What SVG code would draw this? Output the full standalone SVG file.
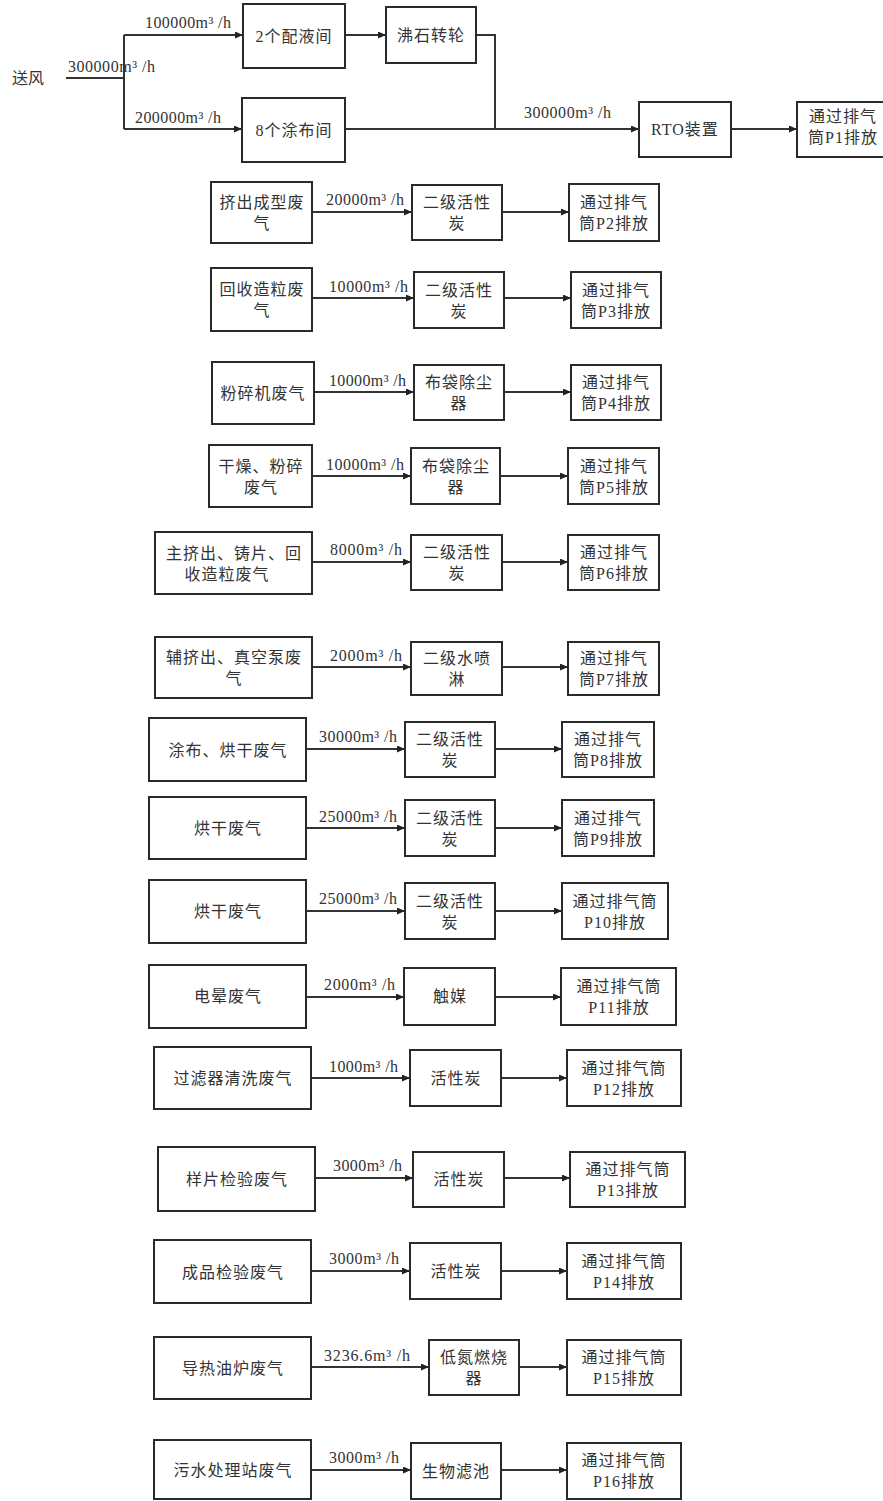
<svg xmlns="http://www.w3.org/2000/svg" width="883" height="1501" viewBox="0 0 883 1501">
<defs>
<marker id="arr" viewBox="0 0 8 7" refX="8" refY="3.5" markerWidth="8" markerHeight="7" markerUnits="userSpaceOnUse" orient="auto">
<path d="M0,0 L8,3.5 L0,7 z" fill="#222"/>
</marker>
<style>
.b{fill:#fff;stroke:#2a2a2a;stroke-width:2}
.t{font-family:"Liberation Serif","Noto Sans CJK SC",serif;font-size:16px;fill:#333;text-anchor:middle;letter-spacing:1px}
.l{font-family:"Liberation Serif","Noto Sans CJK SC",serif;font-size:16px;fill:#333}
.c{fill:none;stroke:#333;stroke-width:2}
.a{fill:none;stroke:#333;stroke-width:2;marker-end:url(#arr)}
</style>
</defs>
<rect width="883" height="1501" fill="#fff"/>

<g id="connectors">
<path class="c" d="M66,78 H124"/>
<path class="c" d="M124,35 V129"/>
<path class="a" d="M124,35 H243"/>
<path class="a" d="M124,129 H242"/>
<path class="a" d="M345,35 H386"/>
<path class="c" d="M476,35 H495 V129"/>
<path class="a" d="M345,129 H639"/>
<path class="a" d="M731,129 H797"/>
<path class="a" d="M312,212 H412"/><path class="a" d="M502,212 H569"/>
<path class="a" d="M312,298 H414"/><path class="a" d="M504,298 H571"/>
<path class="a" d="M314,392 H414"/><path class="a" d="M504,392 H571"/>
<path class="a" d="M312,476 H411"/><path class="a" d="M500,476 H568"/>
<path class="a" d="M312,562 H411"/><path class="a" d="M502,562 H568"/>
<path class="a" d="M312,667 H411"/><path class="a" d="M502,667 H568"/>
<path class="a" d="M306,749 H405"/><path class="a" d="M495,749 H562"/>
<path class="a" d="M306,828 H405"/><path class="a" d="M495,828 H562"/>
<path class="a" d="M306,911 H405"/><path class="a" d="M495,911 H562"/>
<path class="a" d="M306,997 H404"/><path class="a" d="M495,997 H561"/>
<path class="a" d="M311,1078 H410"/><path class="a" d="M501,1078 H567"/>
<path class="a" d="M315,1178 H413"/><path class="a" d="M504,1178 H570"/>
<path class="a" d="M311,1271 H410"/><path class="a" d="M501,1271 H567"/>
<path class="a" d="M311,1367 H429"/><path class="a" d="M519,1367 H567"/>
<path class="a" d="M311,1470 H411"/><path class="a" d="M501,1470 H567"/>
</g>

<g id="labels">
<text class="l" x="12" y="84">送风</text>
<text class="l" x="68" y="72" textLength="87">300000m³ /h</text>
<text class="l" x="145" y="28" textLength="86">100000m³ /h</text>
<text class="l" x="135" y="123" textLength="86">200000m³ /h</text>
<text class="l" x="524" y="118" textLength="87">300000m³ /h</text>
<text class="l" x="326" y="205" textLength="78">20000m³ /h</text>
<text class="l" x="329" y="292" textLength="79">10000m³ /h</text>
<text class="l" x="329" y="386" textLength="77">10000m³ /h</text>
<text class="l" x="326" y="470" textLength="78">10000m³ /h</text>
<text class="l" x="330" y="555" textLength="72">8000m³ /h</text>
<text class="l" x="330" y="661" textLength="72">2000m³ /h</text>
<text class="l" x="319" y="742" textLength="78">30000m³ /h</text>
<text class="l" x="319" y="822" textLength="78">25000m³ /h</text>
<text class="l" x="319" y="904" textLength="78">25000m³ /h</text>
<text class="l" x="324" y="990" textLength="71">2000m³ /h</text>
<text class="l" x="329" y="1072" textLength="69">1000m³ /h</text>
<text class="l" x="333" y="1171" textLength="69">3000m³ /h</text>
<text class="l" x="329" y="1264" textLength="70">3000m³ /h</text>
<text class="l" x="324" y="1361" textLength="86">3236.6m³ /h</text>
<text class="l" x="329" y="1463" textLength="70">3000m³ /h</text>
</g>

<g id="n-peiye"><rect class="b" x="243" y="4" width="102" height="64"/><text class="t" x="294" y="42">2个配液间</text></g>
<g id="n-feishi"><rect class="b" x="386" y="7" width="90" height="56"/><text class="t" x="431" y="41">沸石转轮</text></g>
<g id="n-tubu"><rect class="b" x="242" y="98" width="103" height="64"/><text class="t" x="294" y="136">8个涂布间</text></g>
<g id="n-rto"><rect class="b" x="639" y="102" width="92" height="55"/><text class="t" x="685" y="135">RTO装置</text></g>
<g id="n-p1"><rect class="b" x="797" y="102" width="100" height="55"/><text class="t" x="843" y="122">通过排气</text><text class="t" x="843" y="143">筒P1排放</text></g>

<g id="r2-src"><rect class="b" x="211" y="182" width="101" height="61"/><text class="t" x="262" y="208">挤出成型废</text><text class="t" x="262" y="229">气</text></g>
<g id="r2-mid"><rect class="b" x="412" y="185" width="90" height="55"/><text class="t" x="457" y="208">二级活性</text><text class="t" x="457" y="229">炭</text></g>
<g id="r2-out"><rect class="b" x="569" y="184" width="90" height="57"/><text class="t" x="614" y="208">通过排气</text><text class="t" x="614" y="229">筒P2排放</text></g>

<g id="r3-src"><rect class="b" x="211" y="268" width="101" height="63"/><text class="t" x="262" y="295">回收造粒废</text><text class="t" x="262" y="316">气</text></g>
<g id="r3-mid"><rect class="b" x="414" y="272" width="90" height="56"/><text class="t" x="459" y="296">二级活性</text><text class="t" x="459" y="317">炭</text></g>
<g id="r3-out"><rect class="b" x="571" y="272" width="90" height="56"/><text class="t" x="616" y="296">通过排气</text><text class="t" x="616" y="317">筒P3排放</text></g>

<g id="r4-src"><rect class="b" x="212" y="362" width="102" height="62"/><text class="t" x="263" y="399">粉碎机废气</text></g>
<g id="r4-mid"><rect class="b" x="414" y="365" width="90" height="55"/><text class="t" x="459" y="388">布袋除尘</text><text class="t" x="459" y="409">器</text></g>
<g id="r4-out"><rect class="b" x="571" y="365" width="90" height="55"/><text class="t" x="616" y="388">通过排气</text><text class="t" x="616" y="409">筒P4排放</text></g>

<g id="r5-src"><rect class="b" x="209" y="445" width="103" height="62"/><text class="t" x="261" y="472">干燥、粉碎</text><text class="t" x="261" y="493">废气</text></g>
<g id="r5-mid"><rect class="b" x="411" y="448" width="89" height="56"/><text class="t" x="456" y="472">布袋除尘</text><text class="t" x="456" y="493">器</text></g>
<g id="r5-out"><rect class="b" x="568" y="448" width="91" height="56"/><text class="t" x="614" y="472">通过排气</text><text class="t" x="614" y="493">筒P5排放</text></g>

<g id="r6-src"><rect class="b" x="155" y="532" width="157" height="62"/><text class="t" x="234" y="559">主挤出、铸片、回</text><text class="t" x="227" y="580">收造粒废气</text></g>
<g id="r6-mid"><rect class="b" x="411" y="535" width="91" height="55"/><text class="t" x="457" y="558">二级活性</text><text class="t" x="457" y="579">炭</text></g>
<g id="r6-out"><rect class="b" x="568" y="535" width="91" height="55"/><text class="t" x="614" y="558">通过排气</text><text class="t" x="614" y="579">筒P6排放</text></g>

<g id="r7-src"><rect class="b" x="155" y="637" width="157" height="61"/><text class="t" x="234" y="663">辅挤出、真空泵废</text><text class="t" x="234" y="684">气</text></g>
<g id="r7-mid"><rect class="b" x="411" y="642" width="91" height="53"/><text class="t" x="457" y="664">二级水喷</text><text class="t" x="457" y="685">淋</text></g>
<g id="r7-out"><rect class="b" x="568" y="642" width="91" height="53"/><text class="t" x="614" y="664">通过排气</text><text class="t" x="614" y="685">筒P7排放</text></g>

<g id="r8-src"><rect class="b" x="149" y="718" width="157" height="63"/><text class="t" x="228" y="756">涂布、烘干废气</text></g>
<g id="r8-mid"><rect class="b" x="405" y="722" width="90" height="55"/><text class="t" x="450" y="745">二级活性</text><text class="t" x="450" y="766">炭</text></g>
<g id="r8-out"><rect class="b" x="562" y="722" width="92" height="55"/><text class="t" x="608" y="745">通过排气</text><text class="t" x="608" y="766">筒P8排放</text></g>

<g id="r9-src"><rect class="b" x="149" y="797" width="157" height="62"/><text class="t" x="228" y="834">烘干废气</text></g>
<g id="r9-mid"><rect class="b" x="405" y="800" width="90" height="56"/><text class="t" x="450" y="824">二级活性</text><text class="t" x="450" y="845">炭</text></g>
<g id="r9-out"><rect class="b" x="562" y="800" width="92" height="56"/><text class="t" x="608" y="824">通过排气</text><text class="t" x="608" y="845">筒P9排放</text></g>

<g id="r10-src"><rect class="b" x="149" y="880" width="157" height="63"/><text class="t" x="228" y="917">烘干废气</text></g>
<g id="r10-mid"><rect class="b" x="405" y="883" width="90" height="56"/><text class="t" x="450" y="907">二级活性</text><text class="t" x="450" y="928">炭</text></g>
<g id="r10-out"><rect class="b" x="562" y="883" width="106" height="56"/><text class="t" x="615" y="907">通过排气筒</text><text class="t" x="615" y="928">P10排放</text></g>

<g id="r11-src"><rect class="b" x="149" y="965" width="157" height="63"/><text class="t" x="228" y="1002">电晕废气</text></g>
<g id="r11-mid"><rect class="b" x="404" y="968" width="91" height="57"/><text class="t" x="450" y="1002">触媒</text></g>
<g id="r11-out"><rect class="b" x="561" y="968" width="115" height="57"/><text class="t" x="619" y="992">通过排气筒</text><text class="t" x="619" y="1013">P11排放</text></g>

<g id="r12-src"><rect class="b" x="154" y="1047" width="157" height="62"/><text class="t" x="233" y="1084">过滤器清洗废气</text></g>
<g id="r12-mid"><rect class="b" x="410" y="1050" width="91" height="56"/><text class="t" x="456" y="1084">活性炭</text></g>
<g id="r12-out"><rect class="b" x="567" y="1050" width="114" height="56"/><text class="t" x="624" y="1074">通过排气筒</text><text class="t" x="624" y="1095">P12排放</text></g>

<g id="r13-src"><rect class="b" x="158" y="1147" width="157" height="64"/><text class="t" x="237" y="1185">样片检验废气</text></g>
<g id="r13-mid"><rect class="b" x="413" y="1152" width="91" height="55"/><text class="t" x="459" y="1185">活性炭</text></g>
<g id="r13-out"><rect class="b" x="570" y="1152" width="115" height="55"/><text class="t" x="628" y="1175">通过排气筒</text><text class="t" x="628" y="1196">P13排放</text></g>

<g id="r14-src"><rect class="b" x="154" y="1240" width="157" height="63"/><text class="t" x="233" y="1278">成品检验废气</text></g>
<g id="r14-mid"><rect class="b" x="410" y="1243" width="91" height="56"/><text class="t" x="456" y="1277">活性炭</text></g>
<g id="r14-out"><rect class="b" x="567" y="1243" width="114" height="56"/><text class="t" x="624" y="1267">通过排气筒</text><text class="t" x="624" y="1288">P14排放</text></g>

<g id="r15-src"><rect class="b" x="154" y="1337" width="157" height="62"/><text class="t" x="233" y="1374">导热油炉废气</text></g>
<g id="r15-mid"><rect class="b" x="429" y="1340" width="90" height="55"/><text class="t" x="474" y="1363">低氮燃烧</text><text class="t" x="474" y="1384">器</text></g>
<g id="r15-out"><rect class="b" x="567" y="1340" width="114" height="55"/><text class="t" x="624" y="1363">通过排气筒</text><text class="t" x="624" y="1384">P15排放</text></g>

<g id="r16-src"><rect class="b" x="154" y="1440" width="157" height="59"/><text class="t" x="233" y="1476">污水处理站废气</text></g>
<g id="r16-mid"><rect class="b" x="411" y="1443" width="90" height="56"/><text class="t" x="456" y="1477">生物滤池</text></g>
<g id="r16-out"><rect class="b" x="567" y="1443" width="114" height="56"/><text class="t" x="624" y="1466">通过排气筒</text><text class="t" x="624" y="1487">P16排放</text></g>
</svg>
